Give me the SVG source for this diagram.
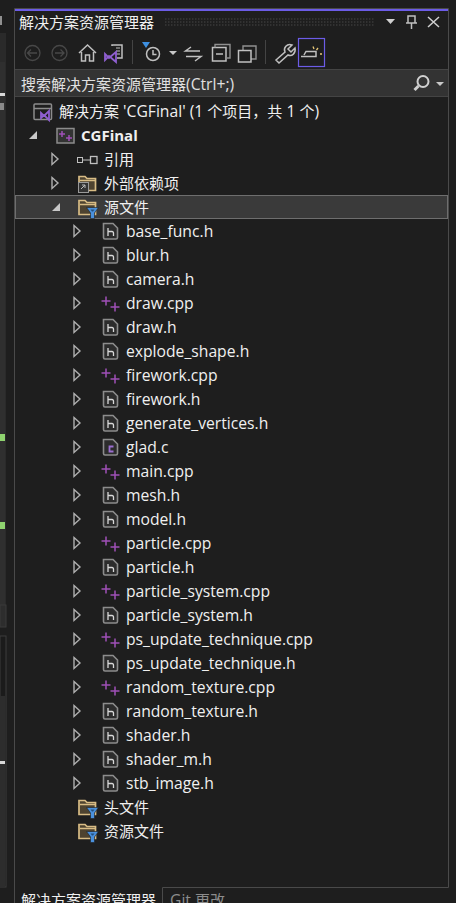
<svg xmlns="http://www.w3.org/2000/svg" width="456" height="903" viewBox="0 0 456 903">
<style>
text{font-family:"Noto Sans CJK SC","Noto Sans",sans-serif;font-size:15px;fill:#f0f0f0}
.l{font-family:"Open Sans","Noto Sans CJK SC",sans-serif;font-size:15.700px;fill:#f0f0f0}
.ic{fill:none;stroke:#c0c0c0;stroke-width:1.500}
.dim{fill:none;stroke:#484848;stroke-width:1.300}
.arr{fill:none;stroke:#b0b0b0;stroke-width:1.400}
</style>
<defs>
<path id="closed" d="M0 -5.500L6 0L0 5.500Z" class="arr"/>
<path id="open" d="M8 -4V4H0Z" fill="#c8c8c8"/>
<g id="h"><path d="M-6.500 -7.500H3L7.500 -3V6.500Q7.500 8 6 8H-5Q-6.500 8 -6.500 6.500Z" fill="#2c2c2c" stroke="#8c8c8c" stroke-width="1.600"/><path d="M-2 -3V5M-2 0.500H2Q3.500 0.500 3.500 2V5" fill="none" stroke="#d8d8d8" stroke-width="1.300"/></g>
<g id="c"><path d="M-6.500 -7.500H3L7.500 -3V6.500Q7.500 8 6 8H-5Q-6.500 8 -6.500 6.500Z" fill="#2c2c2c" stroke="#8c8c8c" stroke-width="1.600"/><path d="M3.500 -0.500H-0.500V4.500H3.500" fill="none" stroke="#9b6fd0" stroke-width="1.800"/></g>
<g id="cpp" stroke="#a050b8" stroke-width="1.500" fill="none"><path d="M-4 -6.500V2.500M-8.500 -2H0.500"/><path d="M5 -0.500V8.500M0.500 4H9.500"/></g>
<g id="folder"><path d="M-8 7.500V-6.500H-2L0 -4.500H8.500V7.500Z" fill="#4e4330" stroke="#d8bc85" stroke-width="1.700"/><path d="M-7 -2.500H8" stroke="#d8bc85" stroke-width="1.500" fill="none"/></g>
<g id="ffolder"><use href="#folder"/><path d="M-0.500 0.500H11.500L7.500 6V11.500H3.500V6Z" fill="#4a90dc" stroke="#1e1e1e" stroke-width="0.600"/><path d="M3.500 2.500H7.500L6 4.500H5Z" fill="#24507c"/></g>
</defs>
<rect width="456" height="903" fill="#1e1e1e"/>
<g id="left-strip">
<rect x="0" y="33" width="6" height="572" fill="#2a2a2a"/>
<rect x="0" y="62" width="5" height="543" fill="#2f2f2f"/>
<rect x="0" y="605" width="6" height="22" fill="#2d2d2d" stroke="#3a3a3a"/>
<rect x="0" y="636" width="6" height="251" fill="#1b1b1b" stroke="#3c3c3c"/>
<rect x="0" y="696" width="5" height="191" fill="#2d2d2d"/>
<rect x="0" y="93" width="5" height="3" fill="#d8d8d8"/>
<rect x="0" y="103" width="4" height="7" fill="#8a8a8a"/>
<rect x="0" y="434" width="5" height="7" fill="#8fd36f"/>
<rect x="0" y="522" width="5" height="7" fill="#8fd36f"/>
<rect x="0" y="761" width="5" height="3" fill="#d8d8d8"/>
<path d="M0 16H2V25H0Z" fill="#909090"/>
</g>
<g id="panel">
<path d="M14.500 903V8.500H448.500V887.500H162.500V903" fill="#1e1e1e" stroke="#4a4a4a"/>
<rect x="15" y="9" width="433" height="2" fill="#6c5ce7"/>
<path d="M165 19H375M165 22H375M165 25H375" stroke="#3a3a3a" stroke-width="1.500" stroke-dasharray="1.500 1.500"/>
<text x="19" y="28">解决方案资源管理器</text>
<path d="M386 19H395L390.500 24Z" fill="#d0d0d0"/>
<path d="M408 16H415V23H408ZM406 23H417M411.500 23V29" class="ic"/>
<path d="M428 17L439 27M439 17L428 27" fill="none" stroke="#d0d0d0" stroke-width="1.500"/>
</g>
<g id="toolbar">
<circle cx="32.500" cy="53" r="7.500" class="dim"/><path d="M37 53H28M31 49.500L27.500 53L31 56.500" class="dim"/>
<circle cx="59.500" cy="53" r="7.500" class="dim"/><path d="M55 53H64M60.500 49.500L64 53L60.500 56.500" class="dim"/>
<path d="M79 53L87.500 45L96 53M81.500 52V61H85.500V55H89.500V61H93.500V52" class="ic"/>
<path d="M112 46V45H122V58H117" class="ic"/><path d="M116 48H120M116 51H120M116 54H120" stroke="#c0c0c0" fill="none"/>
<path d="M105 54L109 58L116 52V62L109 56L105 60Z" fill="none" stroke="#8f5fd0" stroke-width="1.800"/>
<rect x="132" y="40" width="1" height="24" fill="#444"/>
<path d="M142 42H150L146 48Z" fill="#3d8fe0"/>
<circle cx="153" cy="54" r="6.500" class="ic"/><path d="M153 50V54.500H156.500" class="ic"/>
<path d="M169 51H177L173 55Z" fill="#c8c8c8"/>
<path d="M200 51H185.500L191 47M186 56.500H201L195 61" class="ic"/>
<path d="M212.500 47.500H226V61H212.500Z" class="ic"/><path d="M216 54H223" class="ic"/><path d="M215 47.500V44.500H230V58H226" fill="none" stroke="#909090" stroke-width="1.400"/>
<path d="M243 50V46H256V59H251" fill="none" stroke="#909090" stroke-width="1.400"/><path d="M238.500 50.500H251V62H238.500Z" class="ic"/>
<rect x="265" y="40" width="1" height="24" fill="#444"/>
<path d="M276 60L285 52C283 48 287 43 292 45L288 49L291 52L295 48C296 53 292 57 288 55L279 63Z" class="ic"/>
<rect x="298.500" y="38.500" width="26" height="28" fill="#1e1e1e" stroke="#6c5ce7" stroke-width="1.200"/>
<path d="M301 56.500H316V51.500H306L304 55" class="ic"/><path d="M313 46.500L314 49M318 48L316.500 50M320 54H322" stroke="#e8c878" stroke-width="1.300" fill="none"/>
</g>
<g id="search">
<rect x="15" y="70" width="433" height="27" fill="#333"/>
<path d="M15 69.500H448M15 96.500H448" stroke="#444"/>
<text x="21" y="90" style="fill:#e0e0e0">搜索解决方案资源管理器<tspan class="l" style="fill:#e0e0e0">(Ctrl+;)</tspan></text>
<circle cx="423" cy="81.500" r="5.500" fill="none" stroke="#d0d0d0" stroke-width="2"/><path d="M418.500 86L414.500 90" stroke="#d0d0d0" stroke-width="3"/>
<path d="M436 82H444L440 86Z" fill="#c8c8c8"/>
</g>
<g id="tree-connectors"></g>
<rect x="15.500" y="195.500" width="432" height="23" fill="#3a3a3a" stroke="#6e6e6e"/>
<g id="solution"><rect x="34" y="104" width="17.500" height="15.500" rx="1" fill="none" stroke="#8c8c8c" stroke-width="1.500"/><path d="M34 108.500H51" stroke="#8c8c8c" stroke-width="1.500"/><path d="M41 113L44 116L49 111V120L44 115L41 118Z" fill="#1e1e1e" stroke="#8f5fd0" stroke-width="1.800"/><text x="59" y="117">解决方案<tspan class="l"> 'CGFinal' (1 </tspan>个项目，共<tspan class="l"> 1 </tspan>个<tspan class="l">)</tspan></text></g>
<g id="project"><use href="#open" x="29" y="135"/><rect x="57" y="128.500" width="17" height="14.500" fill="#333" stroke="#8c8c8c" stroke-width="1.500"/><path d="M62 131V137M59 134H65M69 135V141M66 138H72" stroke="#a050b8" stroke-width="1.500"/><text x="81" y="141" class="l" font-weight="700" style="font-size:15px">CGFinal</text></g>
<g id="refs"><use href="#closed" x="52" y="159"/><path d="M83 160H91" stroke="#c0c0c0"/><rect x="77.500" y="157.500" width="5" height="5" fill="#1e1e1e" stroke="#c0c0c0"/><rect x="90.500" y="156.500" width="6.500" height="7" fill="#1e1e1e" stroke="#c0c0c0" stroke-width="1.300"/><text x="104" y="165">引用</text></g>
<g id="ext"><use href="#closed" x="52" y="183"/><use href="#folder" x="87" y="183"/><rect x="78.500" y="182.500" width="10" height="10" fill="#333" stroke="#999"/><path d="M81 189L85 185M82 185H85V188" stroke="#bbb" fill="none"/><text x="104" y="189">外部依赖项</text></g>
<g id="src"><use href="#open" x="52" y="207"/><use href="#ffolder" x="87" y="207"/><text x="104" y="213">源文件</text></g>
<g id="f1"><use href="#closed" x="74" y="231"/><use href="#h" x="110" y="231"/><text x="126" y="237" class="l">base_func.h</text></g>
<g id="f2"><use href="#closed" x="74" y="255"/><use href="#h" x="110" y="255"/><text x="126" y="261" class="l">blur.h</text></g>
<g id="f3"><use href="#closed" x="74" y="279"/><use href="#h" x="110" y="279"/><text x="126" y="285" class="l">camera.h</text></g>
<g id="f4"><use href="#closed" x="74" y="303"/><use href="#cpp" x="110" y="303"/><text x="126" y="309" class="l">draw.cpp</text></g>
<g id="f5"><use href="#closed" x="74" y="327"/><use href="#h" x="110" y="327"/><text x="126" y="333" class="l">draw.h</text></g>
<g id="f6"><use href="#closed" x="74" y="351"/><use href="#h" x="110" y="351"/><text x="126" y="357" class="l">explode_shape.h</text></g>
<g id="f7"><use href="#closed" x="74" y="375"/><use href="#cpp" x="110" y="375"/><text x="126" y="381" class="l">firework.cpp</text></g>
<g id="f8"><use href="#closed" x="74" y="399"/><use href="#h" x="110" y="399"/><text x="126" y="405" class="l">firework.h</text></g>
<g id="f9"><use href="#closed" x="74" y="423"/><use href="#h" x="110" y="423"/><text x="126" y="429" class="l">generate_vertices.h</text></g>
<g id="f10"><use href="#closed" x="74" y="447"/><use href="#c" x="110" y="447"/><text x="126" y="453" class="l">glad.c</text></g>
<g id="f11"><use href="#closed" x="74" y="471"/><use href="#cpp" x="110" y="471"/><text x="126" y="477" class="l">main.cpp</text></g>
<g id="f12"><use href="#closed" x="74" y="495"/><use href="#h" x="110" y="495"/><text x="126" y="501" class="l">mesh.h</text></g>
<g id="f13"><use href="#closed" x="74" y="519"/><use href="#h" x="110" y="519"/><text x="126" y="525" class="l">model.h</text></g>
<g id="f14"><use href="#closed" x="74" y="543"/><use href="#cpp" x="110" y="543"/><text x="126" y="549" class="l">particle.cpp</text></g>
<g id="f15"><use href="#closed" x="74" y="567"/><use href="#h" x="110" y="567"/><text x="126" y="573" class="l">particle.h</text></g>
<g id="f16"><use href="#closed" x="74" y="591"/><use href="#cpp" x="110" y="591"/><text x="126" y="597" class="l">particle_system.cpp</text></g>
<g id="f17"><use href="#closed" x="74" y="615"/><use href="#h" x="110" y="615"/><text x="126" y="621" class="l">particle_system.h</text></g>
<g id="f18"><use href="#closed" x="74" y="639"/><use href="#cpp" x="110" y="639"/><text x="126" y="645" class="l">ps_update_technique.cpp</text></g>
<g id="f19"><use href="#closed" x="74" y="663"/><use href="#h" x="110" y="663"/><text x="126" y="669" class="l">ps_update_technique.h</text></g>
<g id="f20"><use href="#closed" x="74" y="687"/><use href="#cpp" x="110" y="687"/><text x="126" y="693" class="l">random_texture.cpp</text></g>
<g id="f21"><use href="#closed" x="74" y="711"/><use href="#h" x="110" y="711"/><text x="126" y="717" class="l">random_texture.h</text></g>
<g id="f22"><use href="#closed" x="74" y="735"/><use href="#h" x="110" y="735"/><text x="126" y="741" class="l">shader.h</text></g>
<g id="f23"><use href="#closed" x="74" y="759"/><use href="#h" x="110" y="759"/><text x="126" y="765" class="l">shader_m.h</text></g>
<g id="f24"><use href="#closed" x="74" y="783"/><use href="#h" x="110" y="783"/><text x="126" y="789" class="l">stb_image.h</text></g>
<g id="headers"><use href="#ffolder" x="87" y="807"/><text x="104" y="813">头文件</text></g>
<g id="res"><use href="#ffolder" x="87" y="831"/><text x="104" y="837">资源文件</text></g>
<g id="tabs">
<text x="21" y="906">解决方案资源管理器</text>
<text x="170" y="906" style="fill:#8c8c8c"><tspan class="l" style="fill:#8c8c8c">Git </tspan>更改</text>
</g>
</svg>
